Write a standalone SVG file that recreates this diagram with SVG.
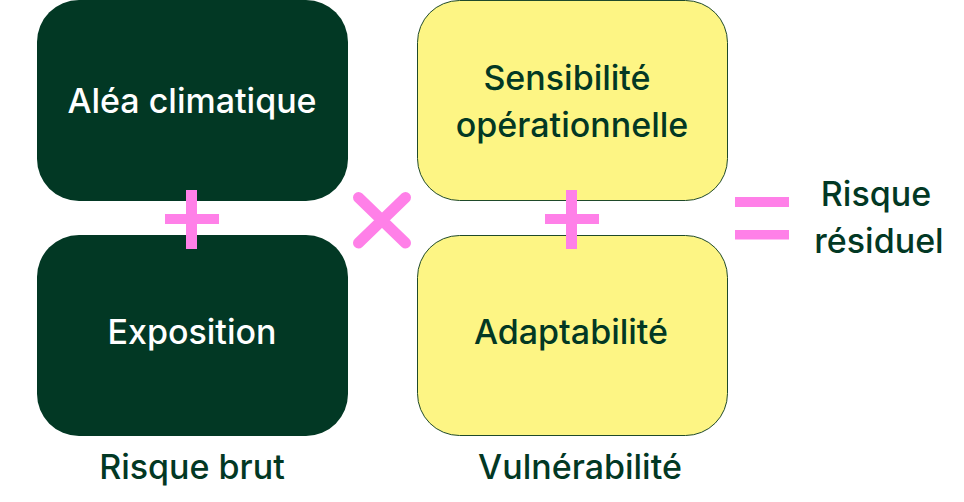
<svg xmlns="http://www.w3.org/2000/svg" width="964" height="502" viewBox="0 0 964 502">
<style>
.dark{fill:#023824}
.yel{fill:#FDF584;stroke:#1f4a2a;stroke-width:1}
.t{font-family:Inter,"Noto Sans",sans-serif;font-size:34px;font-weight:500;text-anchor:middle}
.w{fill:#FFFFFF}
.g{fill:#023824}
.op{fill:#FF80E8}
</style>
<rect width="964" height="502" fill="#FFFFFF"/>
<g id="alea"><rect class="dark" x="37" y="0" width="311" height="201" rx="42"/><text class="t w" x="192" y="113">Aléa climatique</text></g>
<g id="exposition"><rect class="dark" x="37" y="235" width="311" height="201" rx="42"/><text class="t w" x="192" y="344">Exposition</text></g>
<g id="sensibilite"><rect class="yel" x="417.5" y="0.5" width="310" height="200" rx="42"/><text class="t g" x="567" y="90">Sensibilité</text><text class="t g" x="572" y="137">opérationnelle</text></g>
<g id="adaptabilite"><rect class="yel" x="417.5" y="235.5" width="310" height="200" rx="42"/><text class="t g" x="571" y="344">Adaptabilité</text></g>
<g id="risque-brut"><text class="t g" x="192" y="479">Risque brut</text></g>
<g id="vulnerabilite"><text class="t g" x="580" y="479">Vulnérabilité</text></g>
<g id="risque-residuel"><text class="t g" x="876" y="206">Risque</text><text class="t g" x="879" y="253">résiduel</text></g>
<g id="operators">
<rect class="op" x="186" y="190" width="11" height="59"/><rect class="op" x="165" y="214" width="54" height="10"/>
<rect class="op" x="566" y="190" width="11" height="59"/><rect class="op" x="545" y="214" width="54" height="10"/>
<path d="M358.5 197.5 L405.5 243 M405.5 197.5 L358.5 243" stroke="#FF80E8" stroke-width="11" stroke-linecap="round" fill="none"/>
<rect class="op" x="735" y="197" width="54" height="10"/><rect class="op" x="735" y="230" width="54" height="9.5"/>
</g>
</svg>
